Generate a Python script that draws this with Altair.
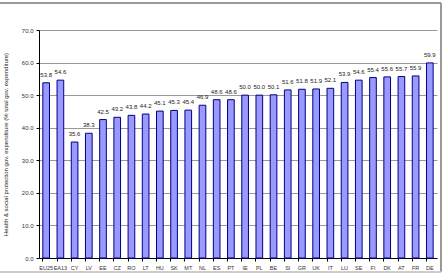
import altair as alt
import pandas as pd

countries = ["EU25", "EA13", "CY", "LV", "EE", "CZ", "RO", "LT", "HU", "SK", "MT", "NL", "ES", "PT",
             "IE", "PL", "BE", "SI", "GR", "UK", "IT", "LU", "SE", "FI", "DK", "AT", "FR", "DE"]
values = [53.8, 54.6, 35.6, 38.3, 42.5, 43.2, 43.8, 44.2, 45.1, 45.3, 45.4, 46.9, 48.6, 48.6,
          50.0, 50.0, 50.1, 51.6, 51.8, 51.9, 52.1, 53.9, 54.6, 55.4, 55.6, 55.7, 55.9, 59.9]
y_ticks = [0, 10, 20, 30, 40, 50, 60, 70]

df = pd.DataFrame({"country": countries, "value": values})

W, H = 398, 228
font = "Liberation Sans"

x = alt.X("country:N", sort=countries, title=None,
          scale=alt.Scale(paddingInner=0.53, paddingOuter=0.27),
          axis=alt.Axis(labelAngle=0, labelFontSize=5.5, labelColor="#333333", labelFont=font,
                        tickSize=3, tickColor="#000000", domainColor="#000000",
                        bandPosition=0, labelPadding=4, grid=False, labelOverlap=False))
y = alt.Y("value:Q", title="Health & social protection gov. expenditure (% total gov. expenditure)",
          scale=alt.Scale(domain=[0, 70], nice=False),
          axis=alt.Axis(values=y_ticks, tickCount=20, format=".1f", labelFontSize=6,
                        labelColor="#333333", labelFont=font, titleFont=font, titleFontSize=6,
                        titleFontWeight="normal", titleColor="#222222", titlePadding=13,
                        tickSize=3, tickColor="#000000", domainColor="#000000",
                        gridColor="#999999", gridWidth=1, labelPadding=3, labelOverlap=False,
                        labelFlush=False))

bars = alt.Chart(df).mark_bar(color="#9999ff", stroke="#000080", strokeWidth=1).encode(x=x, y=y)
labels = alt.Chart(df).mark_text(dy=-5, fontSize=6, font=font, color="#222222", baseline="bottom").encode(
    x=x, y=y, text=alt.Text("value:Q", format=".1f"))

frame_top = alt.Chart(df).mark_rule(color="#999999", strokeWidth=2).encode(
    x=alt.value(-39), x2=alt.value(402), y=alt.value(-27))
frame_right = alt.Chart(df).mark_rule(color="#999999", strokeWidth=2).encode(
    x=alt.value(402), y=alt.value(-27), y2=alt.value(242))
frame_bottom = alt.Chart(df).mark_rule(color="#cccccc", strokeWidth=2).encode(
    x=alt.value(-39), x2=alt.value(402), y=alt.value(242))

chart = alt.layer(bars, labels, frame_top, frame_right, frame_bottom).properties(
    width=W, height=H,
    autosize=alt.AutoSizeParams(type="none"),
    padding={"left": 39, "top": 30, "right": 6, "bottom": 16},
    background="white",
).configure_view(stroke=None)

chart.save("out.html", embed_options={"renderer": "svg", "actions": False})
